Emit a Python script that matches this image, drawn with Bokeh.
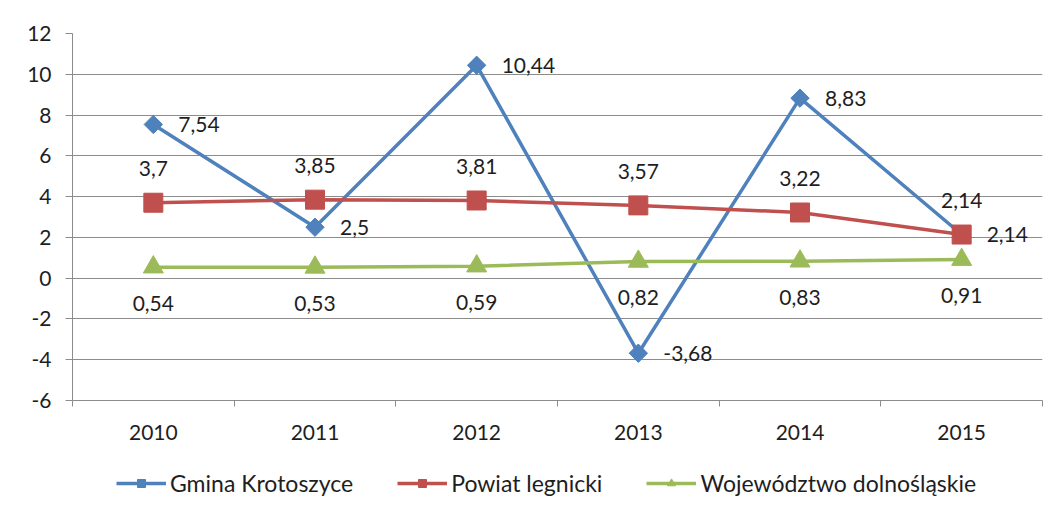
import numpy as np
from bokeh.plotting import figure
from bokeh.layouts import column
from bokeh.models import Range1d, FixedTicker, Legend, LegendItem, LabelSet, ColumnDataSource
from bokeh.core.properties import value
from bokeh.embed import file_html
from bokeh.resources import INLINE

years = ["2010", "2011", "2012", "2013", "2014", "2015"]
gmina = [7.54, 2.5, 10.44, -3.68, 8.83, 2.14]
powiat = [3.7, 3.85, 3.81, 3.57, 3.22, 2.14]
woj = [0.54, 0.53, 0.59, 0.82, 0.83, 0.91]
series_names = ["Gmina Krotoszyce", "Powiat legnicki", "Województwo dolnośląskie"]
y_ticks = list(range(-6, 13, 2))

FONT = "Lato"
FS = "21px"
TXT = "#1e1e1e"
GRID = "#8c8c8c"
BLUE = "#4F81BD"
RED = "#C0504D"
GREEN = "#9BBB59"
W = 1050


def fmt(v):
    return f"{v:g}".replace(".", ",")


xs = [i + 0.5 for i in range(len(years))]

p = figure(width=W, height=455, output_backend="svg", toolbar_location=None,
           x_range=Range1d(0, len(years)), y_range=Range1d(-6, 12),
           min_border_left=72, min_border_right=W - 72 - 970, min_border_top=33, min_border_bottom=55)
p.outline_line_color = None
p.background_fill_color = "white"
p.border_fill_color = "white"

# grid
p.xgrid.visible = False
p.ygrid.ticker = FixedTicker(ticks=y_ticks)
p.ygrid.grid_line_color = GRID
p.ygrid.grid_line_width = 1

# y axis
p.yaxis.ticker = FixedTicker(ticks=y_ticks)
p.yaxis.major_label_overrides = {t: str(t) for t in y_ticks}
p.yaxis.axis_line_color = GRID
p.yaxis.major_tick_line_color = GRID
p.yaxis.major_tick_out = 7
p.yaxis.major_tick_in = 0
p.yaxis.minor_tick_line_color = None
p.yaxis.major_label_standoff = 14
p.yaxis.major_label_text_font = FONT
p.yaxis.major_label_text_font_size = FS
p.yaxis.major_label_text_color = TXT

# x axis: labels at category centres, tick marks at boundaries
p.xaxis.ticker = FixedTicker(ticks=xs, minor_ticks=list(range(len(years) + 1)))
p.xaxis.major_label_overrides = {x: y for x, y in zip(xs, years)}
p.xaxis.axis_line_color = GRID
p.xaxis.major_tick_line_color = None
p.xaxis.major_tick_out = 0
p.xaxis.major_tick_in = 0
p.xaxis.minor_tick_line_color = GRID
p.xaxis.minor_tick_out = 6
p.xaxis.minor_tick_in = 0
p.xaxis.major_label_standoff = 18
p.xaxis.major_label_text_font = FONT
p.xaxis.major_label_text_font_size = FS
p.xaxis.major_label_text_color = TXT

lw = 3.5
styles = [
    dict(color=BLUE, marker="square", angle=np.pi / 4, size=13),
    dict(color=RED, marker="square", angle=0.0, size=19),
    dict(color=GREEN, marker="triangle", angle=0.0, size=20),
]
series = [gmina, powiat, woj]
for vals, st in zip(series, styles):
    p.line(xs, vals, line_color=st["color"], line_width=lw)
    p.scatter(xs, vals, marker=st["marker"], angle=st["angle"], size=st["size"],
              fill_color=st["color"], line_color=st["color"])


def labels(vals, **kw):
    src = ColumnDataSource(dict(x=xs, y=vals, t=[fmt(v) for v in vals]))
    ls = LabelSet(x="x", y="y", text="t", source=src, text_font=value(FONT), text_font_size=value(FS),
                  text_color=TXT, text_baseline="middle", **kw)
    p.add_layout(ls)


labels(gmina, x_offset=25, text_align="left")
labels(powiat, y_offset=34, text_align="center")
labels(woj, y_offset=-36, text_align="center")

# legend strip (series drawn off-range so only the legend shows)
q = figure(width=W, height=56, output_backend="svg", toolbar_location=None,
           x_range=Range1d(-3, -2), y_range=Range1d(-6, 12),
           min_border_left=0, min_border_right=0, min_border_top=0, min_border_bottom=0)
q.axis.visible = False
q.grid.visible = False
q.outline_line_color = None
q.border_fill_color = "white"
q.background_fill_color = "white"
items = []
for name, vals, st in zip(series_names, series, styles):
    lr = q.line(xs, vals, line_color=st["color"], line_width=lw)
    sr = q.scatter(xs, vals, marker=st["marker"], angle=st["angle"], size=st["size"] * 0.8,
                   fill_color=st["color"], line_color=st["color"])
    items.append(LegendItem(label=name, renderers=[lr, sr]))

legend = Legend(items=items, orientation="horizontal", location=(44, 14))
legend.label_text_font = FONT
legend.label_text_font_size = "23px"
legend.label_text_color = TXT
legend.glyph_width = 50
legend.glyph_height = 20
legend.label_standoff = 4
legend.spacing = 44
legend.padding = 5
legend.margin = 0
legend.border_line_color = None
legend.background_fill_alpha = 0
q.add_layout(legend, "center")

layout = column(p, q, spacing=0)
open("out.html", "w").write(file_html(layout, INLINE))
